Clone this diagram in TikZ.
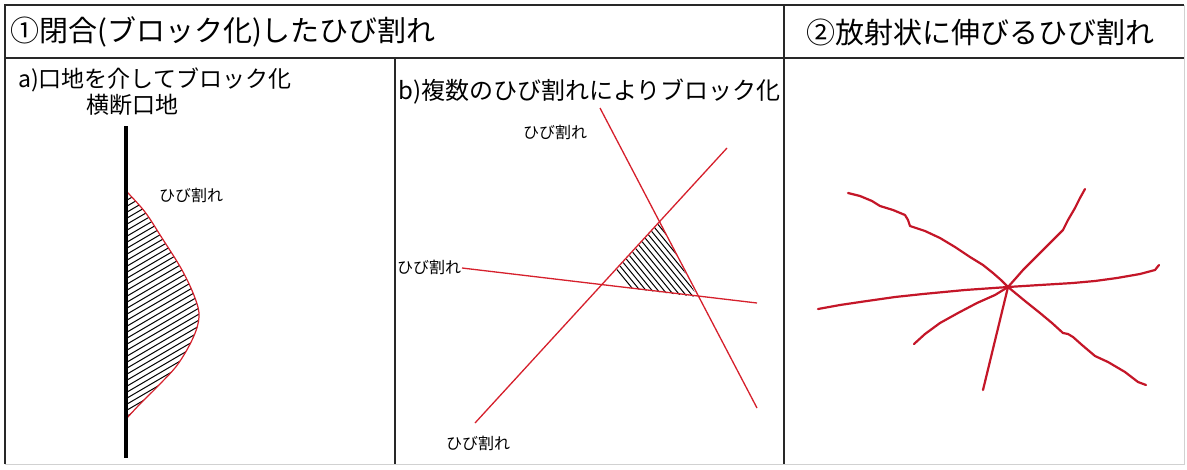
\documentclass[tikz,border=0pt]{standalone}
\usepackage{fontspec}
\setmainfont{Noto Sans CJK JP}
\definecolor{crackred}{RGB}{214,32,44}
\definecolor{crackdark}{RGB}{196,22,40}
\definecolor{rule}{RGB}{40,40,40}
\begin{document}
\begin{tikzpicture}[x=1pt,y=-1pt,
  frame/.style={draw=rule,line width=1.4pt},
  faint/.style={draw=black!18,line width=1pt},
  head/.style={anchor=west,inner sep=0pt,font=\fontsize{29}{29}\selectfont},
  sub/.style={anchor=west,inner sep=0pt,font=\fontsize{23}{23}\selectfont},
  tag/.style={inner sep=0pt,font=\fontsize{16}{16}\selectfont},
  crack/.style={draw=crackred,line width=1.3pt},
  wavy/.style={draw=crackdark,line width=2.2pt,line cap=round,line join=round},
  hatch/.style={draw=black,line width=1pt}]
\useasboundingbox (0,0) rectangle (1187,469);
\fill[white] (0,0) rectangle (1187,469);

% table frame
\draw[frame] (5,464) -- (5,5) -- (1184,5);
\draw[faint] (1184,5) -- (1184,464) -- (5,464);
\draw[frame] (5,58) -- (1184,58);
\draw[frame] (395,58) -- (395,464);
\draw[frame] (784,5) -- (784,464);

% headings
\node[head] (h1) at (10,32) {①閉合(ブロック化)したひび割れ};
\node[head] (h2) at (806,32) {②放射状に伸びるひび割れ};
\node[sub] (sa) at (18,80) {a)口地を介してブロック化};
\node[sub] (sa2) at (86,105) {横断口地};
\node[sub,font=\fontsize{24}{24}\selectfont] (sb) at (398,92) {b)複数のひび割れによりブロック化};

% a) block bounded by the joint
\path[save path=\blockA] (127,192) plot[smooth,tension=0.6] coordinates
  {(127,192) (145,212) (162,238) (182,270) (195,298) (199,317) (193,338) (178,364) (160,384) (140,404) (127,418)} -- cycle;
\begin{scope}
  \clip[use path=\blockA];
  \foreach \k in {0,...,60} \draw[hatch] (110,150+\k*6) -- ++(120,-70);
\end{scope}
\draw[crackred,line width=1.2pt] plot[smooth,tension=0.6] coordinates
  {(127,192) (145,212) (162,238) (182,270) (195,298) (199,317) (193,338) (178,364) (160,384) (140,404) (127,418)};
\coordinate (jt) at (126,126);
\coordinate (jb) at (126,458);
\draw[black,line width=4pt] (jt) -- (jb);
\node[tag] (ta) at (191,195) {ひび割れ};

% b) three cracks closing a triangle
\coordinate (p1a) at (600,108);  \coordinate (p1b) at (757,408);
\coordinate (p2a) at (475,423);  \coordinate (p2b) at (727,148);
\coordinate (p3a) at (462,268);  \coordinate (p3b) at (757,303);
\coordinate (ta1) at (660,222);  \coordinate (ta2) at (603,285);  \coordinate (ta3) at (697,297);
\begin{scope}
  \clip (ta1) -- (ta2) -- (ta3) -- cycle;
  \foreach \k in {0,...,40} \draw[hatch] (560+\k*6,200) -- ++(90,110);
\end{scope}
\draw[crack] (p1a) -- (p1b);
\draw[crack] (p2a) -- (p2b);
\draw[crack] (p3a) -- (p3b);
\node[tag] (tb1) at (555,132) {ひび割れ};
\node[tag,anchor=west] (tb2) at (397,267) {ひび割れ};
\node[tag] (tb3) at (478,443) {ひび割れ};

% radial cracks
\coordinate (c) at (1008,287);
\draw[wavy] (848,193) -- (860,196) -- (872,201) -- (880,206) -- (893,210) -- (905,215) -- (908,220) -- (910,226) -- (925,231) -- (940,238) -- (955,247) -- (970,257) -- (983,265) -- (993,273) -- (1001,280) -- (c);
\draw[wavy] (1085,189) -- (1080,198) -- (1075,208) -- (1068,220) -- (1063,230) -- (1055,238) -- (1043,250) -- (1033,260) -- (1023,270) -- (1016,278) -- (c);
\draw[wavy] (1159,265) -- (1155,270) -- (1140,274) -- (1117,278) -- (1095,281) -- (1073,283) -- (1040,285) -- (c);
\draw[wavy] (818,309) -- (840,305) -- (867,301) -- (895,297) -- (923,294) -- (965,290) -- (c);
\draw[wavy] (914,344) -- (925,334) -- (940,323) -- (958,313) -- (977,303) -- (995,295) -- (c);
\draw[wavy] (983,390) -- (c);
\draw[wavy] (1146,385) -- (1138,382) -- (1125,372) -- (1108,362) -- (1095,356) -- (1082,345) -- (1073,337) -- (1068,334) -- (1063,333) -- (1052,323) -- (1040,313) -- (1025,301) -- (c);
\end{tikzpicture}
\end{document}
